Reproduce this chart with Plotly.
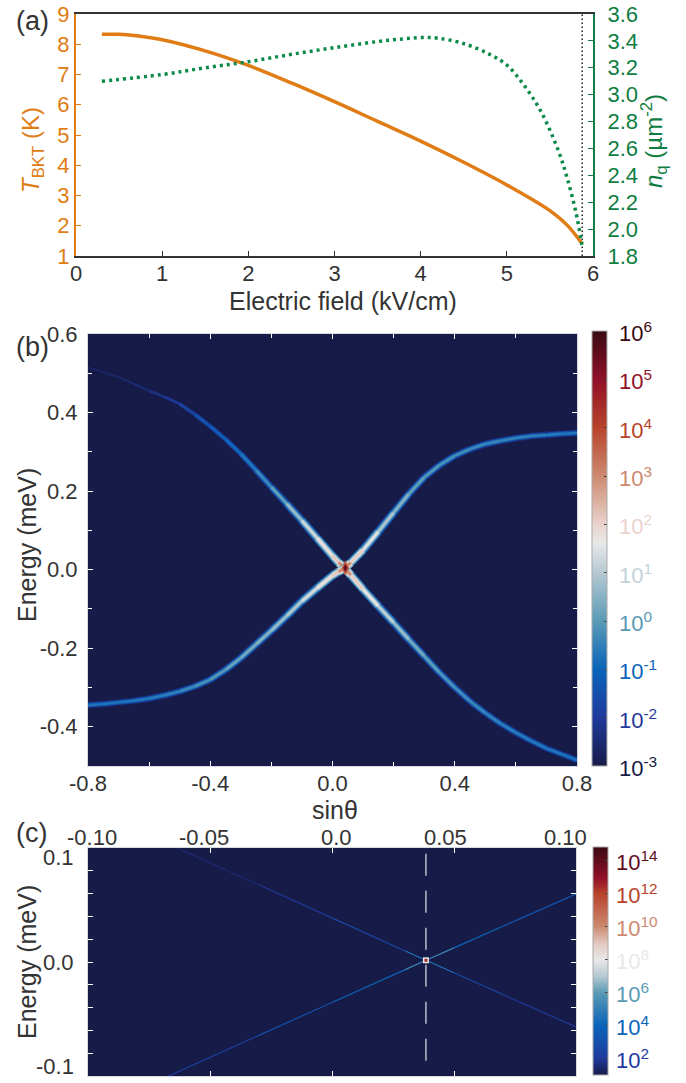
import plotly.graph_objects as go

# ---------- data ----------
field_T = [0.3, 0.5, 0.7, 1.0, 1.5, 2.0, 2.5, 3.0, 3.5, 4.0, 4.5, 5.0, 5.5, 5.7, 5.875]
T_bkt = [8.33, 8.33, 8.28, 8.15, 7.78, 7.3, 6.72, 6.1, 5.45, 4.8, 4.1, 3.35, 2.5, 2.02, 1.4]
field_n = [0.3, 1.0, 1.5, 2.0, 2.5, 3.0, 3.5, 3.8, 4.0, 4.2, 4.5, 4.8, 5.0, 5.2, 5.4, 5.6, 5.7, 5.8, 5.875]
n_q = [3.1, 3.15, 3.2, 3.245, 3.3, 3.35, 3.395, 3.415, 3.425, 3.42, 3.38, 3.3, 3.22, 3.07, 2.87, 2.58, 2.38, 2.13, 1.87]
limit_field = [5.875, 5.875]
limit_T = [1, 9]
t_ticks = [1, 2, 3, 4, 5, 6, 7, 8, 9]
n_ticks = [1.8, 2.0, 2.2, 2.4, 2.6, 2.8, 3.0, 3.2, 3.4, 3.6]

b_x = [-0.8, -0.75, -0.7, -0.65, -0.6, -0.55, -0.5, -0.45, -0.4, -0.35, -0.3, -0.25, -0.2, -0.15, -0.1, -0.05, 0.0,
       0.02, 0.04, 0.06, 0.1, 0.15, 0.2, 0.25, 0.3, 0.35, 0.4, 0.45, 0.5, 0.55, 0.6, 0.65, 0.7, 0.75, 0.8]
b_e_a = [0.515, 0.503, 0.49, 0.473, 0.455, 0.44, 0.422, 0.395, 0.365, 0.332, 0.295, 0.253, 0.21, 0.168, 0.125, 0.08, 0.035,
         0.018, 0.004, -0.014, -0.05, -0.093, -0.135, -0.178, -0.22, -0.262, -0.30, -0.335, -0.365, -0.392, -0.415, -0.436, -0.455, -0.47, -0.485]
b_i_a = [-2.7, -2.65, -2.6, -2.5, -2.4, -2.2, -1.9, -1.5, -1.2, -1.0, -0.8, -0.5, -0.1, 0.4, 1.0, 1.6, 2.0,
         2.4, 3.6, 2.4, 1.9, 1.4, 0.9, 0.5, 0.15, -0.05, -0.2, -0.3, -0.4, -0.5, -0.55, -0.6, -0.65, -0.7, -0.8]
b_e_b = [-0.345, -0.342, -0.338, -0.334, -0.328, -0.32, -0.31, -0.297, -0.28, -0.255, -0.225, -0.19, -0.155, -0.118, -0.08, -0.047, -0.015,
         -0.005, 0.004, 0.018, 0.05, 0.097, 0.145, 0.193, 0.235, 0.266, 0.29, 0.307, 0.32, 0.328, 0.335, 0.34, 0.343, 0.346, 0.348]
b_i_b = [-0.7, -0.7, -0.7, -0.65, -0.6, -0.5, -0.4, -0.25, -0.1, 0.1, 0.25, 0.4, 0.6, 0.8, 1.1, 1.6, 2.0,
         2.4, 3.6, 2.4, 1.8, 1.2, 0.7, 0.3, 0.0, -0.1, -0.2, -0.3, -0.35, -0.4, -0.45, -0.5, -0.55, -0.6, -0.65]
b_center_x = [0.042]
b_center_e = [0.004]
b_ticks = [-3, -2, -1, 0, 1, 2, 3, 4, 5, 6]

c_x_a = [-0.0635, -0.03, 0.0, 0.03, 0.0385, 0.05, 0.07, 0.1]
c_e_a = [0.1, 0.0677, 0.0387, 0.0097, 0.0015, -0.0094, -0.0285, -0.057]
c_i_a = [1.3, 1.7, 2.2, 3.0, 6.0, 3.0, 2.2, 1.8]
c_x_b = [-0.067, -0.03, 0.0, 0.03, 0.0385, 0.05, 0.07, 0.1]
c_e_b = [-0.1, -0.0644, -0.0355, -0.0067, 0.0015, 0.0124, 0.0313, 0.0596]
c_i_b = [1.9, 2.6, 3.4, 4.5, 6.0, 4.5, 3.6, 2.9]
c_center_x = [0.0385]
c_center_e = [0.0015]
c_ticks = [2, 4, 6, 8, 10, 12, 14]
c_top_vals = [-0.1, -0.05, 0, 0.05, 0.1]
c_top_text = ["-0.10", "-0.05", "0.0", "0.05", "0.10"]

b_stops = [(-3, "#171b47"), (-2, "#1f3a9c"), (-1, "#0a64ba"), (0, "#5a9ab5"), (1, "#b5c9d2"), (1.6, "#e8e8e8"),
           (2, "#e9d3cd"), (3, "#cc8a70"), (4, "#b8432a"), (5, "#8f1028"), (6, "#3a0a14")]
c_stops = [(1, "#171b47"), (2, "#1f3a9c"), (4, "#0a64ba"), (6, "#5a9ab5"), (7, "#b5c9d2"), (8, "#e8e8e8"),
           (9, "#e2c9c0"), (10, "#cc8a70"), (12, "#b8432a"), (13, "#8f1028"), (14.85, "#3a0a14")]

# ---------- styling / layout ----------
W, H = 686, 1083
FONT = "Liberation Sans, Arial, sans-serif"
INK = "#333333"
ORANGE = "#e07c14"
GREEN = "#0f7d42"
DOTGREEN = "#0c8a48"
TICK = 22
TITLE = 25


def xd(a, b):
    return [a / W, b / W]


def yd(top, bottom):
    return [1 - bottom / H, 1 - top / H]


def hex2rgb(h):
    return tuple(int(h[i:i + 2], 16) for i in (1, 3, 5))


def cmap(v, stops):
    v = max(stops[0][0], min(stops[-1][0], v))
    for (a, ca), (b, cb) in zip(stops, stops[1:]):
        if v <= b:
            t = (v - a) / (b - a)
            ra, rb = hex2rgb(ca), hex2rgb(cb)
            return "rgb(%d,%d,%d)" % tuple(round(p + (q - p) * t) for p, q in zip(ra, rb))
    return stops[-1][1]


def cscale(stops):
    lo, hi = stops[0][0], stops[-1][0]
    return [[(v - lo) / (hi - lo), c] for v, c in stops]


fig = go.Figure()

# panel a
A_L, A_R, A_T, A_B = 76, 593, 14, 256
fig.add_trace(go.Scatter(x=field_n, y=n_q, xaxis="x", yaxis="y2", mode="lines",
                         line=dict(color=DOTGREEN, width=3.5, dash="3px,4px", shape="spline"), showlegend=False))
fig.add_trace(go.Scatter(x=field_T, y=T_bkt, xaxis="x", yaxis="y", mode="lines",
                         line=dict(color=ORANGE, width=3.5, shape="spline"), showlegend=False))
fig.add_trace(go.Scatter(x=limit_field, y=limit_T, xaxis="x", yaxis="y", mode="lines",
                         line=dict(color="#222222", width=1.5, dash="1.5px,2.5px"), showlegend=False))


def ridges(xs, es, vals, xa, ya, stops, layers):
    for d, w in layers:
        for i in range(len(xs) - 1):
            m = (vals[i] + vals[i + 1]) / 2 - d
            fig.add_trace(go.Scatter(x=xs[i:i + 2], y=es[i:i + 2], xaxis=xa, yaxis=ya, mode="lines",
                                     line=dict(color=cmap(m, stops), width=w), showlegend=False, hoverinfo="skip"))


# panel b
B_L, B_R, B_T, B_B = 88, 577, 334, 766
BAR_B = (592, 607, 331, 766)
fig.add_trace(go.Heatmap(x=[-0.8, 0.8], y=[-0.5, 0.6], z=[[-3, -3], [-3, -3]], xaxis="x2", yaxis="y3",
                         zmin=-3, zmax=6, colorscale=cscale(b_stops),
                         colorbar=dict(x=BAR_B[0] / W, xanchor="left", xpad=0, ypad=0, thicknessmode="pixels",
                                       thickness=BAR_B[1] - BAR_B[0], lenmode="fraction",
                                       len=(BAR_B[3] - BAR_B[2]) / H, y=1 - BAR_B[3] / H, yanchor="bottom",
                                       outlinecolor="#aaaaaa", outlinewidth=1, tickvals=b_ticks, ticks="inside",
                                       ticklen=3, tickcolor="#444444", showticklabels=False)))
LAYERS = [(3.0, 8.5), (2.0, 7), (1.1, 5), (0.4, 3.5), (0, 2)]
ridges(b_x, b_e_a, b_i_a, "x2", "y3", b_stops, LAYERS)
ridges(b_x, b_e_b, b_i_b, "x2", "y3", b_stops, LAYERS)
fig.add_trace(go.Scatter(x=b_center_x, y=b_center_e, xaxis="x2", yaxis="y3", mode="markers",
                         marker=dict(symbol="diamond-tall", size=11, color=cmap(3.6, b_stops)), showlegend=False))
fig.add_trace(go.Scatter(x=b_center_x, y=b_center_e, xaxis="x2", yaxis="y3", mode="markers",
                         marker=dict(symbol="diamond-tall", size=6, color=cmap(5.4, b_stops)), showlegend=False))

# panel c
C_L, C_R, C_T, C_B = 88, 576, 848, 1076
BAR_C = (593, 608, 847, 1075)
fig.add_trace(go.Heatmap(x=[-0.1, 0.1], y=[-0.1, 0.1], z=[[1, 1], [1, 1]], xaxis="x3", yaxis="y4",
                         zmin=1, zmax=14.85, colorscale=cscale(c_stops),
                         colorbar=dict(x=BAR_C[0] / W, xanchor="left", xpad=0, ypad=0, thicknessmode="pixels",
                                       thickness=BAR_C[1] - BAR_C[0], lenmode="fraction",
                                       len=(BAR_C[3] - BAR_C[2]) / H, y=1 - BAR_C[3] / H, yanchor="bottom",
                                       outlinecolor="#aaaaaa", outlinewidth=1, tickvals=c_ticks, ticks="inside",
                                       ticklen=3, tickcolor="#444444", showticklabels=False)))
fig.add_trace(go.Scatter(x=c_center_x * 2, y=[0.095, -0.09], xaxis="x3", yaxis="y4", mode="lines",
                         line=dict(color="#b9bcc8", width=1.5, dash="22px,15px"), showlegend=False))
ridges(c_x_a, c_e_a, c_i_a, "x3", "y4", c_stops, [(0, 1.2)])
ridges(c_x_b, c_e_b, c_i_b, "x3", "y4", c_stops, [(0, 1.2)])
fig.add_trace(go.Scatter(x=c_center_x, y=c_center_e, xaxis="x3", yaxis="y4", mode="markers",
                         marker=dict(symbol="square", size=6, color=cmap(8, c_stops)), showlegend=False))
fig.add_trace(go.Scatter(x=c_center_x, y=c_center_e, xaxis="x3", yaxis="y4", mode="markers",
                         marker=dict(symbol="square", size=3, color=cmap(12.5, c_stops)), showlegend=False))

tickf = dict(family=FONT, size=TICK, color=INK)
annotations = []


def note(x, y, text, color=INK, size=TICK, anchor="center", vanchor="middle", angle=0):
    annotations.append(dict(x=x / W, y=1 - y / H, xref="paper", yref="paper", text=text, showarrow=False,
                            font=dict(family=FONT, size=size, color=color), xanchor=anchor, yanchor=vanchor,
                            textangle=angle))


note(14, 21, "(a)", size=27, anchor="left")
note(14, 347, "(b)", size=27, anchor="left")
note(14, 833, "(c)", size=27, anchor="left")

# axis titles
note(343, 301, "Electric field (kV/cm)", size=TITLE)
note(32, 150, "<i>T</i><sub>BKT</sub> (K)", color=ORANGE, size=24, angle=-90)
note(654, 141, "<i>n</i><sub>q</sub> (µm<sup>-2</sup>)", color=GREEN, size=24, angle=-90)
note(335, 810, "sinθ", size=TITLE)
note(27, 545, "Energy (meV)", size=TITLE, angle=-90)
note(27, 962, "Energy (meV)", size=TITLE, angle=-90)

for v in b_ticks:
    y = BAR_B[3] - (v + 3) / 9 * (BAR_B[3] - BAR_B[2])
    note(BAR_B[1] + 10, y + 1, "10<sup>%d</sup>" % v, color=cmap(v, b_stops) if v != 1 else "#c2d3da", size=22, anchor="left")
for v in c_ticks:
    y = BAR_C[3] - (v - 1) / 13.85 * (BAR_C[3] - BAR_C[2])
    note(BAR_C[1] + 6, y, "10<sup>%d</sup>" % v, color=cmap(v, c_stops), size=22, anchor="left")
for lab, py in [("0.1", 857), ("0.0", 962), ("-0.1", 1066)]:
    note(76, py, lab, anchor="right")
for lab, px in zip(c_top_text, [92, 204, 336, 445.5, 565]):
    note(px, 837, lab)

spine = "#d8d8e0"
fig.update_layout(
    width=W, height=H, margin=dict(l=0, r=0, t=0, b=0), paper_bgcolor="white", plot_bgcolor="white",
    showlegend=False, annotations=annotations, hovermode=False,
    xaxis=dict(domain=xd(A_L, A_R), anchor="y", automargin=False, range=[0, 6], tickvals=[0, 1, 2, 3, 4, 5, 6], ticks="inside", ticklen=5,
               tickcolor=INK, showline=True, linecolor=INK, linewidth=2, mirror=True, showgrid=False, zeroline=False,
               tickfont=tickf, ticklabelstandoff=-3),
    yaxis=dict(domain=yd(A_T, A_B), anchor="x", automargin=False, range=[1, 9], tickvals=t_ticks, ticks="inside", ticklen=5,
               tickcolor=ORANGE, showline=True, linecolor=ORANGE, linewidth=2, showgrid=False, zeroline=False,
               tickfont=dict(family=FONT, size=TICK, color=ORANGE)),
    yaxis2=dict(domain=yd(A_T, A_B), anchor="x", automargin=False, overlaying="y", side="right", range=[1.8, 3.6], tickvals=n_ticks,
                ticktext=["%.1f" % v for v in n_ticks], ticks="inside", ticklen=5, tickcolor=GREEN, showline=True,
                linecolor=GREEN, linewidth=2, showgrid=False, zeroline=False, ticklabelstandoff=8,
                tickfont=dict(family=FONT, size=TICK, color=GREEN)),
    xaxis2=dict(domain=xd(B_L, B_R), anchor="y3", automargin=False, range=[-0.8, 0.8], tickvals=[-0.8, -0.4, 0, 0.4, 0.8],
                ticktext=["-0.8", "-0.4", "0.0", "0.4", "0.8"], ticks="inside", ticklen=5, tickcolor="white",
                minor=dict(tickvals=[-0.6, -0.2, 0.2, 0.6], ticks="inside", ticklen=4, tickcolor="white"),
                showline=True, linecolor=spine, linewidth=1, mirror="allticks", showgrid=False, zeroline=False, tickfont=tickf,
                ticklabelstandoff=-2),
    yaxis3=dict(domain=yd(B_T, B_B), anchor="x2", automargin=False, range=[-0.5, 0.6], tickvals=[-0.4, -0.2, 0, 0.2, 0.4, 0.6],
                ticktext=["-0.4", "-0.2", "0.0", "0.2", "0.4", "0.6"], ticks="inside", ticklen=5, tickcolor="white",
                minor=dict(tickvals=[-0.3, -0.1, 0.1, 0.3, 0.5], ticks="inside", ticklen=4, tickcolor="white"),
                showline=True, linecolor=spine, linewidth=1, mirror="allticks", showgrid=False, zeroline=False, tickfont=tickf,
                ticklabelstandoff=5),
    xaxis3=dict(domain=xd(C_L, C_R), anchor="y4", automargin=False, side="top", range=[-0.1, 0.1], tickvals=c_top_vals,
                showticklabels=False, ticks="inside", ticklen=5, tickcolor="white",
                showline=True, linecolor=spine, linewidth=1, mirror="allticks", showgrid=False, zeroline=False),
    yaxis4=dict(domain=yd(C_T, C_B), anchor="x3", automargin=False, range=[-0.1, 0.1], tickvals=[-0.08, -0.06, -0.04, -0.02, 0, 0.02, 0.04, 0.06, 0.08],
                showticklabels=False, ticks="inside", ticklen=5, tickcolor="white",
                showline=True, linecolor=spine, linewidth=1, mirror="allticks", showgrid=False, zeroline=False),
)
fig.write_html("out.html", post_script="document.body.style.margin='0';", config={"displayModeBar": False})
